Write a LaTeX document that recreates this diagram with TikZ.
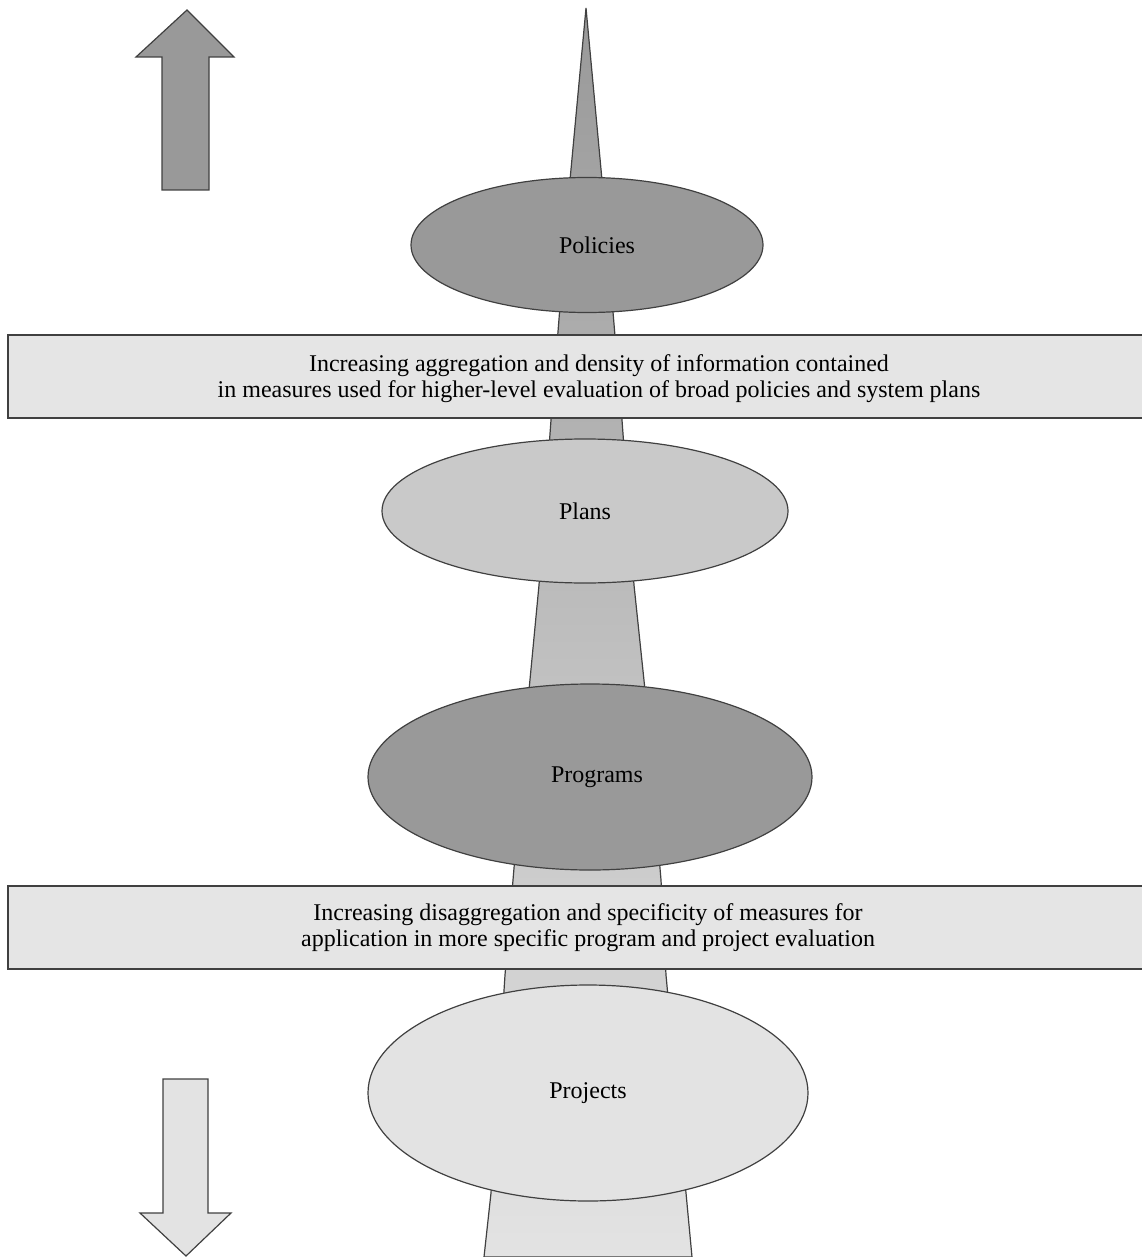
\documentclass[tikz,border=0pt]{standalone}
\usepackage{fontspec}
\setmainfont{Liberation Serif}
\usetikzlibrary{shapes.geometric}
\definecolor{darkfill}{gray}{0.60}
\definecolor{midfill}{gray}{0.79}
\definecolor{lightfill}{gray}{0.89}
\definecolor{boxfill}{gray}{0.90}
\definecolor{edge}{gray}{0.25}
\tikzset{
  outline/.style={draw=edge, line width=0.6pt, line join=miter},
  lvl/.style={ellipse, outline, inner sep=0pt},
  lvltext/.style={font=\fontsize{12}{13.5}\selectfont},
  band/.style={outline, fill=boxfill},
  bandtext/.style={align=center, inner sep=0pt, font=\fontsize{12}{13}\selectfont}
}
\begin{document}
\begin{tikzpicture}[x=0.5pt, y=-0.5pt]
\useasboundingbox (0,0) rectangle (1141,1257);
% up arrow
\path[outline, fill=darkfill] (187,10) -- (234,57) -- (209,57) -- (209,190) -- (162,190) -- (162,57) -- (136,57) -- cycle;
% down arrow
\path[outline, fill=lightfill] (163,1079) -- (208,1079) -- (208,1213) -- (231,1213) -- (186,1256) -- (140,1213) -- (163,1213) -- cycle;
% stem
\path[outline, top color=darkfill, bottom color=lightfill]
  (586,8) -- (602,180) -- (622,420) -- (634,585) -- (645,690) -- (661,880) -- (666,975) -- (686,1193) -- (692,1257)
  -- (484,1257) -- (491,1193) -- (505,975) -- (513,880) -- (529,690) -- (539,585) -- (551,420) -- (570,180) -- cycle;
% ellipses
\node[lvl, fill=darkfill, minimum width=176pt, minimum height=67.5pt,
      label={[lvltext, xshift=5pt]center:Policies}] (policies) at (587,245) {};
\node[lvl, fill=midfill, minimum width=203pt, minimum height=72pt,
      label={[lvltext]center:Plans}] (plans) at (585,511) {};
\node[lvl, fill=darkfill, minimum width=222pt, minimum height=93pt,
      label={[lvltext, xshift=3.5pt]center:Programs}] (programs) at (590,777) {};
\node[lvl, fill=lightfill, minimum width=220pt, minimum height=108pt,
      label={[lvltext]center:Projects}] (projects) at (588,1093) {};
% bands
\path[band] (8,335) rectangle (1150,418);
\node[bandtext] (aggr) at (599,379) {Increasing aggregation and density of information contained\\in measures used for higher-level evaluation of broad policies and system plans};
\path[band] (8,886) rectangle (1150,969);
\node[bandtext] (disaggr) at (588,928) {Increasing disaggregation and specificity of measures for\\application in more specific program and project evaluation};
\end{tikzpicture}
\end{document}
